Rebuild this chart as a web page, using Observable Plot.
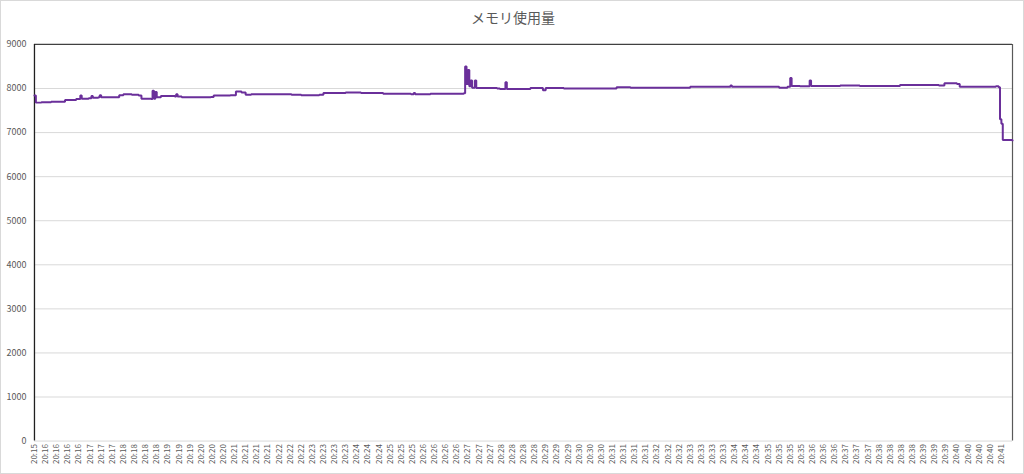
<!DOCTYPE html>
<html>
<head>
<meta charset="utf-8">
<script src="https://cdn.jsdelivr.net/npm/d3@7"></script>
<script src="https://cdn.jsdelivr.net/npm/@observablehq/plot@0.6"></script>
<style>
  html, body { margin: 0; padding: 0; background: #fff; }
  #wrap { position: relative; width: 1024px; height: 474px; box-sizing: border-box; border: 1px solid #d9d9d9; overflow: hidden; }
  #title { position: absolute; top: 6px; left: 0; width: 1024px; text-align: center; font-family: "Noto Sans CJK JP", "Noto Sans", sans-serif; font-size: 14px; color: #595959; }
  #chart { position: absolute; top: -1px; left: -1px; }
</style>
</head>
<body>
<div id="wrap">
  <div id="chart"></div>
  <div id="title">メモリ使用量</div>
</div>
<script>
// Sample index (8 samples per labelled category slot) and memory usage values
const sample = [0,1,5,12,22,30,32,33,34,39,41,42,46,47,48,61,64,70,75,77,84,85,86,87,88,91,101,102,103,106,127,129,141,145,149,152,156,185,192,205,208,224,235,251,271,273,274,285,308,309,310,311,312,313,314,315,317,318,333,335,338,339,340,355,357,364,366,368,381,407,419,427,429,465,472,488,500,501,502,536,542,544,545,551,558,559,580,594,623,651,655,664,666,692,694,695,696,697,704];
const memory = [7840,7680,7690,7700,7740,7760,7760,7840,7770,7780,7830,7790,7800,7850,7800,7850,7870,7860,7840,7770,7760,7950,7770,7920,7800,7830,7820,7870,7820,7800,7810,7840,7850,7930,7910,7860,7870,7860,7850,7860,7900,7910,7900,7880,7870,7900,7870,7880,7880,7890,8500,8100,8420,8050,8180,8020,8180,8010,8000,7990,7990,8140,7990,7990,8010,8010,7960,8010,8000,8000,8030,8030,8020,8020,8040,8040,8040,8070,8040,8020,8040,8240,8060,8050,8180,8060,8070,8060,8080,8070,8120,8100,8040,8050,8030,7300,7200,6830,6820];

// Category axis tick labels (one per slot)
const tickLabels = ["20:15","20:16","20:16","20:16","20:16","20:17","20:17","20:17","20:18","20:18","20:18","20:18","20:19","20:19","20:19","20:20","20:20","20:20","20:21","20:21","20:21","20:21","20:22","20:22","20:22","20:23","20:23","20:23","20:23","20:24","20:24","20:24","20:25","20:25","20:25","20:26","20:26","20:26","20:26","20:27","20:27","20:27","20:28","20:28","20:28","20:28","20:29","20:29","20:29","20:30","20:30","20:30","20:31","20:31","20:31","20:31","20:32","20:32","20:32","20:33","20:33","20:33","20:33","20:34","20:34","20:34","20:35","20:35","20:35","20:35","20:36","20:36","20:36","20:37","20:37","20:37","20:38","20:38","20:38","20:38","20:39","20:39","20:39","20:40","20:40","20:40","20:40","20:41"];
const yTicks = [0,1000,2000,3000,4000,5000,6000,7000,8000,9000];

const samplesPerSlot = 8;
const slotCount = 88;
const data = sample.map((s, i) => ({s, v: memory[i]}));
const xTicks = tickLabels.map((_, i) => i * samplesPerSlot);

const plot = Plot.plot({
  width: 1024,
  height: 474,
  marginLeft: 34,
  marginRight: 11,
  marginTop: 44,
  marginBottom: 33,
  style: {fontFamily: "'Noto Sans CJK JP', 'Noto Sans', sans-serif", color: "#595959", background: "transparent"},
  x: {domain: [0, slotCount * samplesPerSlot]},
  y: {domain: [0, 9000]},
  marks: [
    Plot.ruleY(yTicks.filter(d => d < 9000), {stroke: "#d9d9d9", strokeWidth: 1}),
    Plot.ruleY([9000], {stroke: "#404040", strokeWidth: 1.2}),
    Plot.ruleX([0], {stroke: "#202020", strokeWidth: 1.3}),
    Plot.ruleX([slotCount * samplesPerSlot], {stroke: "#595959", strokeWidth: 1.2}),
    Plot.axisY({ticks: yTicks, tickSize: 0, tickPadding: 8, fontSize: 9, tickFormat: d => String(d), label: null}),
    Plot.axisX({ticks: xTicks, tickFormat: d => tickLabels[Math.round(d / samplesPerSlot)], tickSize: 0, tickPadding: 3, tickRotate: -90, fontSize: 8, label: null}),
    Plot.line(data, {x: "s", y: "v", curve: "step-after", stroke: "#6a2f9a", strokeWidth: 2, strokeLinejoin: "miter"})
  ]
});
document.getElementById("chart").appendChild(plot);
</script>
</body>
</html>
